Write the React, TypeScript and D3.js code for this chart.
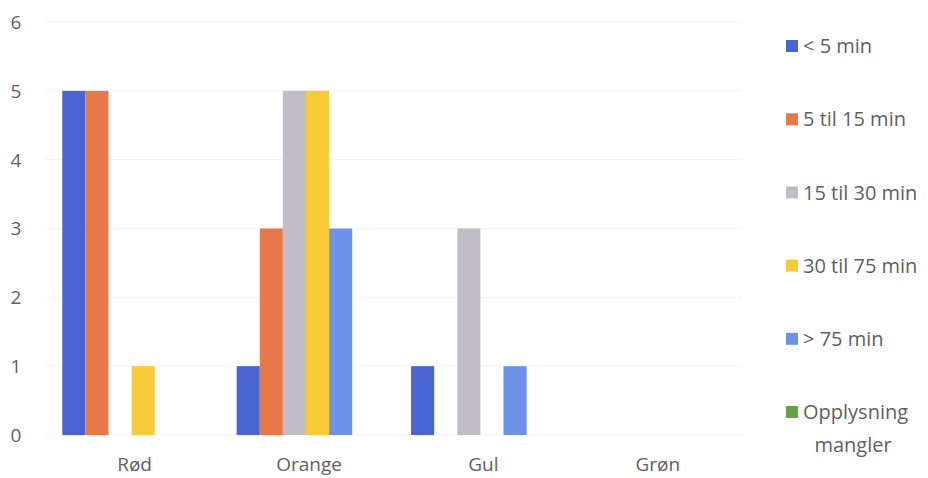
import React from "react";
import * as d3 from "d3";

const categories = ["Rød", "Orange", "Gul", "Grøn"];
const seriesNames = ["< 5 min", "5 til 15 min", "15 til 30 min", "30 til 75 min", "> 75 min", "Opplysning mangler"];
const under5 = [5, 1, 1, 0];
const from5to15 = [5, 3, 0, 0];
const from15to30 = [0, 5, 3, 0];
const from30to75 = [1, 5, 0, 0];
const over75 = [0, 3, 1, 0];
const missing = [0, 0, 0, 0];
const yTicks = [0, 1, 2, 3, 4, 5, 6];

const seriesValues = [under5, from5to15, from15to30, from30to75, over75, missing];
const colors = ["#4a64d6", "#e8774a", "#c0bdc7", "#f8cb38", "#6b93ea", "#62a640"];

const W = 928;
const H = 478;
const left = 44.4;
const right = 742;
const top = 22;
const bottom = 435;
const font = "'Open Sans', sans-serif";
const textColor = "#5f5f5f";

export default function App() {
  const x0 = d3.scaleBand<string>().domain(categories).range([left, right]).paddingInner(0.205).paddingOuter(0.1025);
  const x1 = d3.scaleBand<string>().domain(seriesNames).range([0, x0.bandwidth()]);
  const y = d3.scaleLinear().domain([0, 6]).range([bottom, top]);

  return (
    <svg width={W} height={H} style={{ position: "absolute", left: 0, top: 0, background: "#fff" }}>
      <g>
        {yTicks.map((t) => (
          <g key={t}>
            <line x1={left} x2={right} y1={y(t)} y2={y(t)} stroke="#f4f4f4" strokeWidth={1} />
            <text x={16} y={y(t)} dy="0.36em" textAnchor="middle" fontSize={19} fill={textColor} fontFamily={font}>
              {t}
            </text>
          </g>
        ))}
      </g>
      <g>
        {categories.map((c, ci) => (
          <g key={c}>
            {seriesNames.map((s, si) => {
              const v = seriesValues[si][ci];
              if (!v) return null;
              const bx = (x0(c) ?? 0) + (x1(s) ?? 0);
              return (
                <rect key={s} x={bx} y={y(v)} width={x1.bandwidth()} height={y(0) - y(v)} fill={colors[si]} />
              );
            })}
            <text
              x={(x0(c) ?? 0) + x0.bandwidth() / 2 + 3}
              y={464}
              dy="0.36em"
              textAnchor="middle"
              fontSize={19}
              fill={textColor}
              fontFamily={font}
            >
              {c}
            </text>
          </g>
        ))}
      </g>
      <g>
        {seriesNames.map((s, i) => {
          const ly = 46 + i * 73.2;
          const words = s === "Opplysning mangler" ? ["Opplysning", "mangler"] : [s];
          return (
            <g key={s}>
              <rect x={786} y={ly - 6} width={12} height={12} fill={colors[i]} />
              {words.map((w, wi) => (
                <text
                  key={w}
                  x={wi === 0 ? 803 : 853}
                  y={ly + wi * 33}
                  dy="0.36em"
                  textAnchor={wi === 0 ? "start" : "middle"}
                  fontSize={20}
                  fill={textColor}
                  fontFamily={font}
                >
                  {w}
                </text>
              ))}
            </g>
          );
        })}
      </g>
    </svg>
  );
}
